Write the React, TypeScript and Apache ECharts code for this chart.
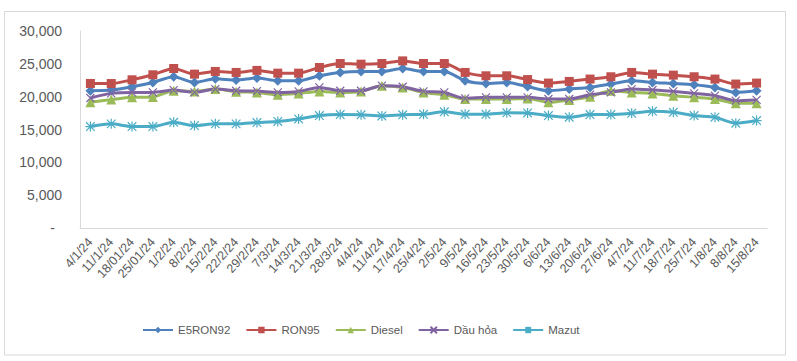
import React, { useEffect, useRef } from "react";
import * as echarts from "echarts";

const categories = [
  "4/1/24", "11/1/24", "18/01/24", "25/01/24", "1/2/24", "8/2/24", "15/2/24", "22/2/24",
  "29/2/24", "7/3/24", "14/3/24", "21/3/24", "28/3/24", "4/4/24", "11/4/24", "17/4/24",
  "25/4/24", "2/5/24", "9/5/24", "16/5/24", "23/5/24", "30/5/24", "6/6/24", "13/6/24",
  "20/6/24", "27/6/24", "4/7/24", "11/7/24", "18/7/24", "25/7/24", "1/8/24", "8/8/24", "15/8/24",
];

const e5ron92 = [20900, 21010, 21510, 22170, 23030, 22170, 22730, 22520, 22850, 22420, 22420, 23180, 23690, 23840, 23840, 24290, 23840, 23840, 22420, 22010, 22170, 21540, 20900, 21160, 21410, 21920, 22420, 22170, 22010, 21820, 21410, 20650, 20900];
const ron95 = [22010, 22000, 22570, 23330, 24290, 23430, 23840, 23690, 24000, 23580, 23580, 24440, 25050, 24950, 25050, 25450, 25050, 25050, 23690, 23180, 23180, 22600, 22070, 22320, 22680, 23030, 23690, 23430, 23280, 23030, 22680, 21920, 22070];
const diesel = [19140, 19550, 19900, 19950, 20900, 20800, 21160, 20760, 20650, 20300, 20500, 20800, 20650, 20800, 21670, 21410, 20650, 20300, 19650, 19650, 19650, 19720, 19140, 19500, 20000, 20900, 20650, 20500, 20150, 19900, 19650, 18990, 18990];
const dauHoa = [19800, 20500, 20650, 20650, 21000, 20650, 21160, 20900, 20850, 20650, 20800, 21410, 20900, 20900, 21670, 21510, 20800, 20650, 19750, 19900, 19900, 19900, 19650, 19650, 20300, 20650, 21160, 21010, 20800, 20500, 20150, 19390, 19500];
const mazut = [15450, 15860, 15450, 15450, 16100, 15600, 15860, 15860, 16060, 16230, 16600, 17120, 17270, 17240, 17060, 17240, 17320, 17700, 17320, 17320, 17550, 17520, 17120, 16870, 17270, 17270, 17470, 17770, 17620, 17120, 16870, 15960, 16360];

const seriesNames = ["E5RON92", "RON95", "Diesel", "Dầu hỏa", "Mazut"];

const FONT = "'Liberation Sans', Arial, sans-serif";
const TEXT = "#595959";

export default function App() {
  const ref = useRef<HTMLDivElement>(null);
  useEffect(() => {
    if (!ref.current) return;
    const chart = echarts.init(ref.current, undefined, { renderer: "svg" });
    const mk = (name: string, data: number[], color: string, symbol: string, size: number, stroke: boolean) => ({
      name,
      type: "line",
      data,
      smooth: 0.25,
      symbol,
      symbolSize: size,
      lineStyle: { color, width: 3 },
      itemStyle: stroke
        ? { color: "rgba(0,0,0,0)", borderColor: color, borderWidth: 1.2 }
        : { color, borderWidth: 0 },
      emphasis: { disabled: true },
    });
    chart.setOption({
      animation: false,
      textStyle: { fontFamily: FONT },
      graphic: [
        {
          type: "rect",
          shape: { x: 4.5, y: 11.5, width: 781, height: 343.5 },
          style: { fill: "none", stroke: "#D9D9D9", lineWidth: 1 },
          silent: true,
        },
      ],
      grid: { left: 80, right: 30, top: 31, bottom: 133 },
      legend: {
        left: 137,
        top: 319,
        itemWidth: 30,
        itemHeight: 8,
        itemGap: 15,
        data: seriesNames,
        textStyle: { color: TEXT, fontSize: 11.5, fontFamily: FONT },
      },
      xAxis: {
        type: "category",
        data: categories,
        boundaryGap: true,
        axisLine: { show: true, lineStyle: { color: "#D9D9D9", width: 1 } },
        axisTick: { show: false },
        axisLabel: {
          interval: 0,
          rotate: 48,
          margin: 12,
          color: TEXT,
          fontSize: 12.5,
          fontFamily: FONT,
        },
      },
      yAxis: {
        type: "value",
        min: 0,
        max: 30000,
        interval: 5000,
        splitLine: { show: false },
        axisLine: { show: true, lineStyle: { color: "#D9D9D9", width: 1 } },
        axisTick: { show: false },
        axisLabel: {
          margin: 18,
          color: TEXT,
          fontSize: 14,
          fontFamily: FONT,
          formatter: (v: number) => (v === 0 ? "-\u2002" : v.toLocaleString("en-US")),
        },
      },
      series: [
        mk(seriesNames[0], e5ron92, "#4F81BD", "diamond", 10, false),
        mk(seriesNames[1], ron95, "#C0504D", "rect", 9, false),
        mk(seriesNames[2], diesel, "#9BBB59", "triangle", 10, false),
        mk(seriesNames[3], dauHoa, "#8064A2", "path://M0,0L10,10M10,0L0,10", 8, true),
        mk(seriesNames[4], mazut, "#4BACC6", "path://M5,0L5,10M0.7,0.7L9.3,9.3M9.3,0.7L0.7,9.3M0,5L10,5", 10, true),
      ],
    });
    return () => chart.dispose();
  }, []);
  return (
    <div
      ref={ref}
      style={{ position: "absolute", left: 0, top: 0, width: 797, height: 361, background: "#fff" }}
    />
  );
}
